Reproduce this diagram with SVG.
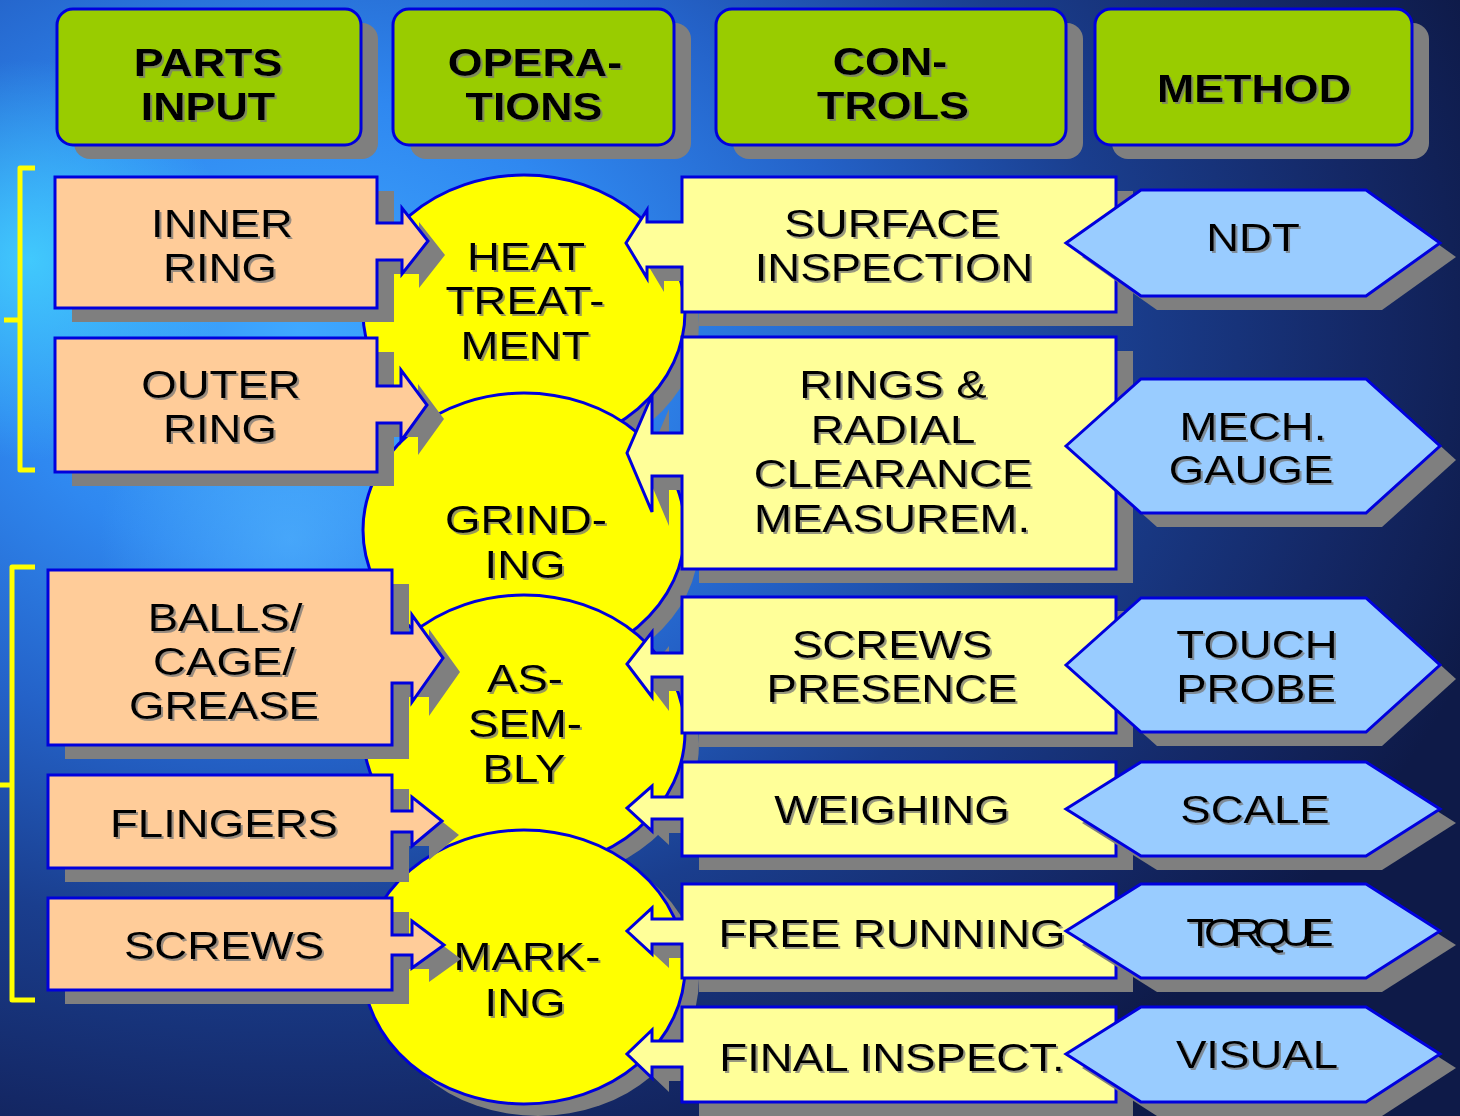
<svg xmlns="http://www.w3.org/2000/svg" xmlns:xlink="http://www.w3.org/1999/xlink" width="1460" height="1116" viewBox="0 0 1460 1116">
<defs>
<radialGradient id="bg" gradientUnits="userSpaceOnUse" cx="300" cy="330" r="1250" gradientTransform="translate(300 330) scale(1 0.75) translate(-300 -330)">
<stop offset="0" stop-color="#3fa8ff"/>
<stop offset="0.25" stop-color="#2f88f0"/>
<stop offset="0.45" stop-color="#2462c8"/>
<stop offset="0.65" stop-color="#1a3e8e"/>
<stop offset="0.85" stop-color="#142866"/>
<stop offset="1" stop-color="#0e1a48"/>
</radialGradient>
<radialGradient id="cy1" gradientUnits="userSpaceOnUse" cx="30" cy="260" r="200">
<stop offset="0" stop-color="#44d4ff" stop-opacity="0.85"/>
<stop offset="1" stop-color="#44d4ff" stop-opacity="0"/>
</radialGradient>
<radialGradient id="cy2" gradientUnits="userSpaceOnUse" cx="290" cy="540" r="190">
<stop offset="0" stop-color="#55b8ff" stop-opacity="0.6"/>
<stop offset="1" stop-color="#55b8ff" stop-opacity="0"/>
</radialGradient>
<filter id="ts" x="-10%" y="-10%" width="125%" height="130%">
<feDropShadow dx="2" dy="2" stdDeviation="0.6" flood-color="#777777" flood-opacity="0.75"/>
</filter>
<rect id="h1" x="57" y="9" width="304" height="136" rx="16"/>
<rect id="h2" x="393" y="9" width="281" height="136" rx="16"/>
<rect id="h3" x="716" y="9" width="350" height="136" rx="16"/>
<rect id="h4" x="1095" y="9" width="317" height="136" rx="16"/>
<path id="c1" d="M55 177 H377 V223 H402 V208 L428 241 L402 274 V260 H377 V308 H55 Z"/>
<path id="c2" d="M55 338 H377 V386 H401 V370 L427 405 L401 441 V423 H377 V472 H55 Z"/>
<path id="c3" d="M48 570 H392 V633 H412 V615 L443 658 L412 702 V683 H392 V745 H48 Z"/>
<path id="c4" d="M48 775 H392 V811 H412 V797 L442 821 L412 846 V832 H392 V868 H48 Z"/>
<path id="c5" d="M48 898 H392 V935 H412 V921 L444 945 L412 968 V955 H392 V990 H48 Z"/>
<path id="r1" d="M1116 177 V312 H682 V267 H647 V278 L626 243 L647 210 V222 H682 V177 Z"/>
<path id="r2" d="M1116 337 V569 H682 V476 H652 V512 L627 453 L652 395 V433 H682 V337 Z"/>
<path id="r3" d="M1116 597 V733 H682 V677 H652 V697 L627 664 L652 632 V653 H682 V597 Z"/>
<path id="r4" d="M1116 762 V856 H682 V819 H652 V831 L627 808 L652 786 V797 H682 V762 Z"/>
<path id="r5" d="M1116 884 V978 H682 V944 H652 V954 L627 931 L652 908 V919 H682 V884 Z"/>
<path id="r6" d="M1116 1007 V1102 H682 V1067 H652 V1078 L627 1054 L652 1030 V1041 H682 V1007 Z"/>
<path id="m1" d="M1066 243 L1141 190 H1366 L1440 243 L1366 296 H1141 Z"/>
<path id="m2" d="M1066 446 L1141 379 H1366 L1440 446 L1366 513 H1141 Z"/>
<path id="m3" d="M1066 665 L1141 598 H1366 L1440 665 L1366 732 H1141 Z"/>
<path id="m4" d="M1066 809 L1141 762 H1366 L1440 809 L1366 856 H1141 Z"/>
<path id="m5" d="M1066 931 L1141 884 H1366 L1440 931 L1366 978 H1141 Z"/>
<path id="m6" d="M1066 1054 L1141 1007 H1366 L1440 1054 L1366 1102 H1141 Z"/>
<ellipse id="e1" cx="524" cy="312" rx="161" ry="137"/>
<ellipse id="e2" cx="524" cy="530" rx="161" ry="137"/>
<ellipse id="e3" cx="524" cy="732" rx="161" ry="137"/>
<ellipse id="e4" cx="524" cy="967" rx="161" ry="137"/>
</defs>
<style>
.shd { fill:#7f7f7f; stroke:none }
.hdr { fill:#99cc00; stroke:#0000dd; stroke-width:3 }
.part { fill:#ffcc99; stroke:#0000dd; stroke-width:3 }
.ctl { fill:#ffff99; stroke:#0000dd; stroke-width:3 }
.op { fill:#ffff00; stroke:#0000dd; stroke-width:3 }
.meth { fill:#99ccff; stroke:#0000dd; stroke-width:3 }
.brk { fill:none; stroke:#ffff00; stroke-width:5; stroke-linejoin:round }
.lbl { filter:url(#ts) }
text { font-family:"Liberation Sans", Arial, sans-serif; font-size:38px; fill:#000000; text-anchor:middle }
.b { font-weight:bold }
</style>

<rect x="0" y="0" width="1460" height="1116" fill="url(#bg)"/>
<rect x="0" y="0" width="1460" height="1116" fill="url(#cy1)"/>
<rect x="0" y="0" width="1460" height="1116" fill="url(#cy2)"/>

<g id="bracket-rings">
<path class="brk" d="M35 168 H20 V470 H35 M20 320 H4"/>
</g>
<g id="bracket-others">
<path class="brk" d="M35 567 H12 V1000 H35 M12 785 H0"/>
</g>

<g id="hdr-parts">
<use xlink:href="#h1" class="shd" transform="translate(17 14)"/>
<use xlink:href="#h1" class="hdr"/>
<g class="lbl"><text class="b" transform="translate(208 76) scale(1.18 1)">PARTS</text><text class="b" transform="translate(208 120) scale(1.18 1)">INPUT</text></g>
</g>
<g id="hdr-operations">
<use xlink:href="#h2" class="shd" transform="translate(17 14)"/>
<use xlink:href="#h2" class="hdr"/>
<g class="lbl"><text class="b" transform="translate(535 76) scale(1.18 1)">OPERA-</text><text class="b" transform="translate(534 120) scale(1.18 1)">TIONS</text></g>
</g>
<g id="hdr-controls">
<use xlink:href="#h3" class="shd" transform="translate(17 14)"/>
<use xlink:href="#h3" class="hdr"/>
<g class="lbl"><text class="b" transform="translate(890 75) scale(1.18 1)">CON-</text><text class="b" transform="translate(893 119) scale(1.18 1)">TROLS</text></g>
</g>
<g id="hdr-method">
<use xlink:href="#h4" class="shd" transform="translate(17 14)"/>
<use xlink:href="#h4" class="hdr"/>
<g class="lbl"><text class="b" transform="translate(1254 102) scale(1.18 1)">METHOD</text></g>
</g>

<g id="op-heat-treatment">
<use xlink:href="#e1" class="shd" transform="translate(14 12)"/>
<use xlink:href="#e1" class="op"/>
<g class="lbl"><text transform="translate(526 270) scale(1.2 1)">HEAT</text><text transform="translate(525 314) scale(1.2 1)">TREAT-</text><text transform="translate(525 359) scale(1.2 1)">MENT</text></g>
</g>
<g id="op-grinding">
<use xlink:href="#e2" class="shd" transform="translate(14 12)"/>
<use xlink:href="#e2" class="op"/>
<g class="lbl"><text transform="translate(526 533) scale(1.2 1)">GRIND-</text><text transform="translate(525 578) scale(1.2 1)">ING</text></g>
</g>
<g id="op-assembly">
<use xlink:href="#e3" class="shd" transform="translate(14 12)"/>
<use xlink:href="#e3" class="op"/>
<g class="lbl"><text transform="translate(525 692) scale(1.2 1)">AS-</text><text transform="translate(525 737) scale(1.2 1)">SEM-</text><text transform="translate(524 782) scale(1.2 1)">BLY</text></g>
</g>
<g id="op-marking">
<use xlink:href="#e4" class="shd" transform="translate(14 12)"/>
<use xlink:href="#e4" class="op"/>
<g class="lbl"><text transform="translate(527 970) scale(1.2 1)">MARK-</text><text transform="translate(525 1016) scale(1.2 1)">ING</text></g>
</g>

<g id="part-inner-ring">
<use xlink:href="#c1" class="shd" transform="translate(17 14)"/>
<use xlink:href="#c1" class="part"/>
<g class="lbl"><text transform="translate(222 237) scale(1.2 1)">INNER</text><text transform="translate(220 281) scale(1.2 1)">RING</text></g>
</g>
<g id="part-outer-ring">
<use xlink:href="#c2" class="shd" transform="translate(17 14)"/>
<use xlink:href="#c2" class="part"/>
<g class="lbl"><text transform="translate(221 398) scale(1.2 1)">OUTER</text><text transform="translate(220 442) scale(1.2 1)">RING</text></g>
</g>
<g id="part-balls">
<use xlink:href="#c3" class="shd" transform="translate(17 14)"/>
<use xlink:href="#c3" class="part"/>
<g class="lbl"><text transform="translate(225 631) scale(1.2 1)">BALLS/</text><text transform="translate(224 675) scale(1.2 1)">CAGE/</text><text transform="translate(224 719) scale(1.2 1)">GREASE</text></g>
</g>
<g id="part-flingers">
<use xlink:href="#c4" class="shd" transform="translate(17 14)"/>
<use xlink:href="#c4" class="part"/>
<g class="lbl"><text transform="translate(224 837) scale(1.2 1)">FLINGERS</text></g>
</g>
<g id="part-screws">
<use xlink:href="#c5" class="shd" transform="translate(17 14)"/>
<use xlink:href="#c5" class="part"/>
<g class="lbl"><text transform="translate(224 959) scale(1.2 1)">SCREWS</text></g>
</g>

<g id="ctl-surface">
<use xlink:href="#r1" class="shd" transform="translate(17 14)"/>
<use xlink:href="#r1" class="ctl"/>
<g class="lbl"><text transform="translate(892 237) scale(1.2 1)">SURFACE</text><text transform="translate(894 281) scale(1.2 1)">INSPECTION</text></g>
</g>
<g id="ctl-rings">
<use xlink:href="#r2" class="shd" transform="translate(17 14)"/>
<use xlink:href="#r2" class="ctl"/>
<g class="lbl"><text transform="translate(893 398) scale(1.2 1)">RINGS &amp;</text><text transform="translate(893 443) scale(1.2 1)">RADIAL</text><text transform="translate(893 487) scale(1.2 1)">CLEARANCE</text><text transform="translate(892 532) scale(1.2 1)">MEASUREM.</text></g>
</g>
<g id="ctl-screws">
<use xlink:href="#r3" class="shd" transform="translate(17 14)"/>
<use xlink:href="#r3" class="ctl"/>
<g class="lbl"><text transform="translate(892 658) scale(1.2 1)">SCREWS</text><text transform="translate(892 702) scale(1.2 1)">PRESENCE</text></g>
</g>
<g id="ctl-weighing">
<use xlink:href="#r4" class="shd" transform="translate(17 14)"/>
<use xlink:href="#r4" class="ctl"/>
<g class="lbl"><text transform="translate(892 823) scale(1.2 1)">WEIGHING</text></g>
</g>
<g id="ctl-free-running">
<use xlink:href="#r5" class="shd" transform="translate(17 14)"/>
<use xlink:href="#r5" class="ctl"/>
<g class="lbl"><text transform="translate(892 947) scale(1.2 1)">FREE RUNNING</text></g>
</g>
<g id="ctl-final">
<use xlink:href="#r6" class="shd" transform="translate(17 14)"/>
<use xlink:href="#r6" class="ctl"/>
<g class="lbl"><text transform="translate(892 1071) scale(1.2 1)">FINAL INSPECT.</text></g>
</g>

<g id="meth-ndt">
<use xlink:href="#m1" class="shd" transform="translate(16 14)"/>
<use xlink:href="#m1" class="meth"/>
<g class="lbl"><text transform="translate(1253 251) scale(1.2 1)">NDT</text></g>
</g>
<g id="meth-gauge">
<use xlink:href="#m2" class="shd" transform="translate(16 14)"/>
<use xlink:href="#m2" class="meth"/>
<g class="lbl"><text transform="translate(1253 440) scale(1.2 1)">MECH.</text><text transform="translate(1251 483) scale(1.2 1)">GAUGE</text></g>
</g>
<g id="meth-probe">
<use xlink:href="#m3" class="shd" transform="translate(16 14)"/>
<use xlink:href="#m3" class="meth"/>
<g class="lbl"><text transform="translate(1257 658) scale(1.2 1)">TOUCH</text><text transform="translate(1256 702) scale(1.2 1)">PROBE</text></g>
</g>
<g id="meth-scale">
<use xlink:href="#m4" class="shd" transform="translate(16 14)"/>
<use xlink:href="#m4" class="meth"/>
<g class="lbl"><text transform="translate(1255 823) scale(1.2 1)">SCALE</text></g>
</g>
<g id="meth-torque">
<use xlink:href="#m5" class="shd" transform="translate(16 14)"/>
<use xlink:href="#m5" class="meth"/>
<g class="lbl"><text transform="translate(1260 946) scale(1.2 1)" textLength="123" lengthAdjust="spacing">TORQUE</text></g>
</g>
<g id="meth-visual">
<use xlink:href="#m6" class="shd" transform="translate(16 14)"/>
<use xlink:href="#m6" class="meth"/>
<g class="lbl"><text transform="translate(1257 1068) scale(1.2 1)">VISUAL</text></g>
</g>

<g id="connectors"></g>
</svg>
